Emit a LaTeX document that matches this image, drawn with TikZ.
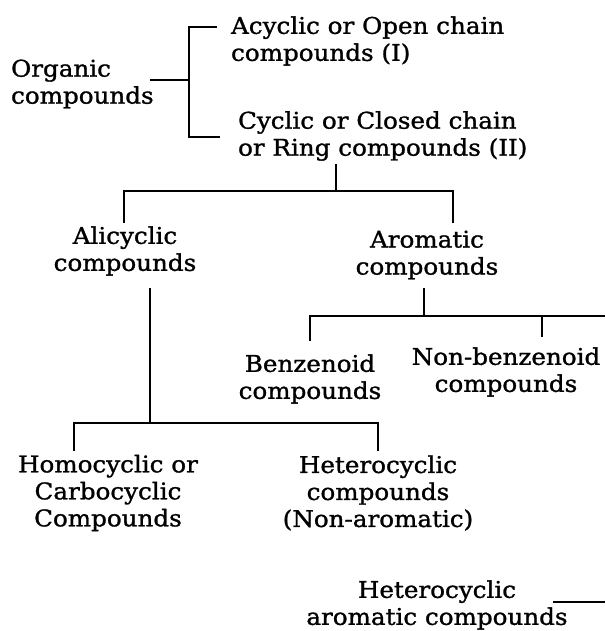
\documentclass[tikz,border=0pt]{standalone}
\usepackage{fontspec}
\setmainfont{DejaVu Serif}[FakeStretch=1.07,FakeBold=1.2]
\begin{document}
\begin{tikzpicture}[x=1pt,y=-1pt,line width=2.2pt,
  every node/.style={inner sep=0pt,align=center,font=\fontsize{23}{27}\selectfont},
  lefttext/.style={align=left,anchor=west}]
\useasboundingbox (0,0) rectangle (605,631);
\node[lefttext] (org) at (10,84) {Organic\\compounds};
\node[lefttext] (acyc) at (230,41) {Acyclic or Open chain\\compounds (I)};
\node[lefttext] (cyc) at (237,136) {Cyclic or Closed chain\\or Ring compounds (II)};
\node (alic) at (125,251) {Alicyclic\\compounds};
\node (arom) at (427,255) {Aromatic\\compounds};
\node (benz) at (310,379) {Benzenoid\\compounds};
\node (nonb) at (506,372) {Non-benzenoid\\compounds};
\node (homo) at (108,493) {Homocyclic or\\Carbocyclic\\Compounds};
\node (het) at (378,493) {Heterocyclic\\compounds\\(Non-aromatic)};
\node (hetar) at (437,605) {Heterocyclic\\aromatic compounds};
\coordinate (o1) at (150,80);
\coordinate (o2) at (189,80);
\coordinate (a1) at (217,27);
\coordinate (c1) at (220,137);
\draw (o1) -- (o2);
\draw (a1) -| (o2) |- (c1);
\coordinate (c2) at (336,164);
\coordinate (c3) at (336,191);
\coordinate (l1) at (124,223);
\coordinate (r1) at (453,223);
\draw (c2) -- (c3);
\draw (l1) |- (c3) -| (r1);
\coordinate (d1) at (150,288);
\coordinate (d2) at (150,423);
\coordinate (h1) at (74,451);
\coordinate (h2) at (378,451);
\draw (d1) -- (d2);
\draw (h1) |- (d2) -| (h2);
\coordinate (e1) at (424,288);
\coordinate (e2) at (424,316);
\coordinate (e3) at (605,316);
\coordinate (b1) at (310,341);
\coordinate (n1) at (542,337);
\coordinate (n2) at (542,316);
\draw (e1) -- (e2);
\draw (b1) |- (e3);
\draw (n2) -- (n1);
\coordinate (f1) at (553,602);
\coordinate (f2) at (605,602);
\draw (f1) -- (f2);
\end{tikzpicture}
\end{document}
